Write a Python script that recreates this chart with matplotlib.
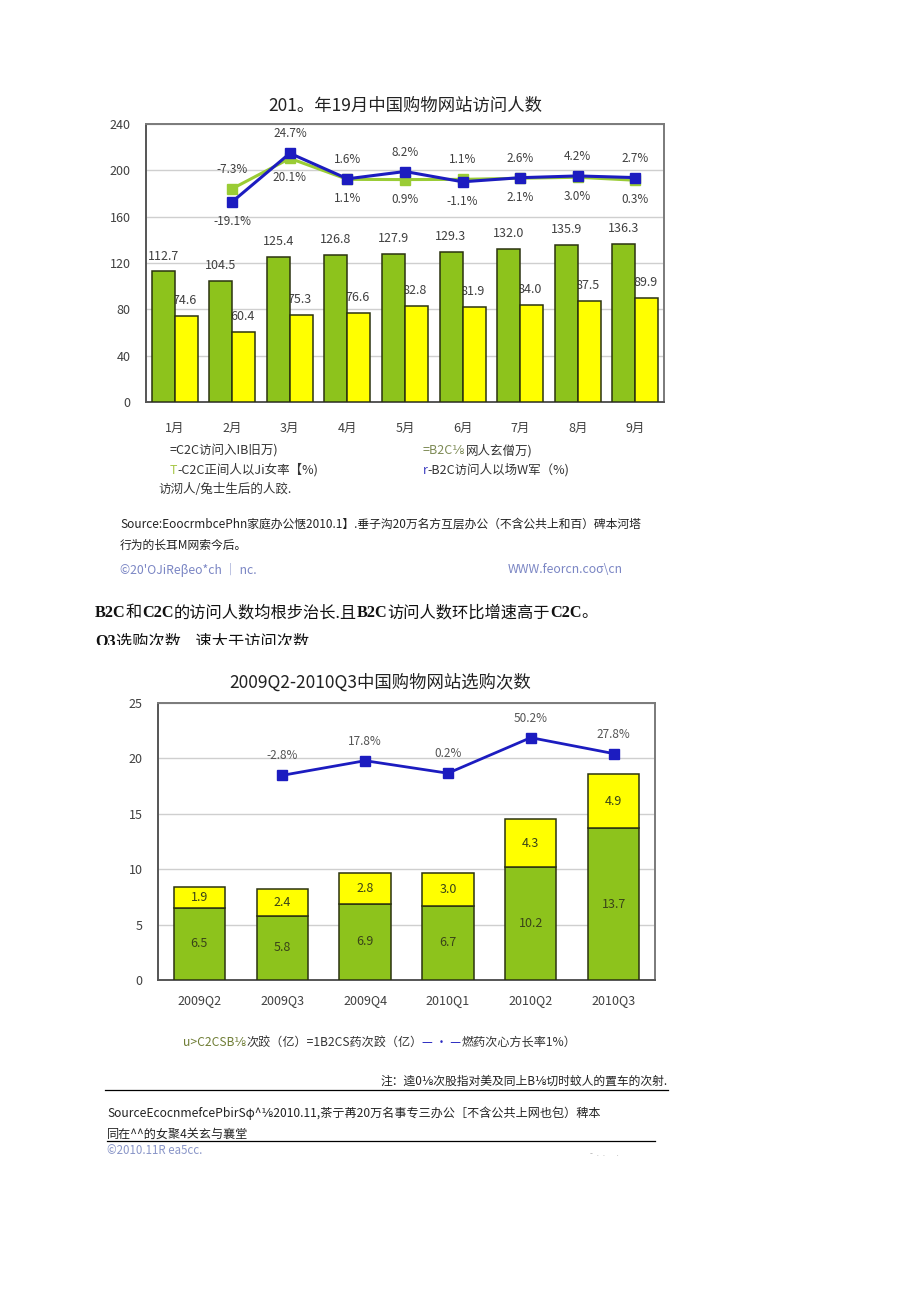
import matplotlib
matplotlib.use("Agg")
import matplotlib.pyplot as plt
from matplotlib.lines import Line2D
from matplotlib.patches import Rectangle
import numpy as np

plt.rcParams['font.family'] = ['Noto Sans CJK SC', 'DejaVu Sans']
plt.rcParams['axes.unicode_minus'] = False

# ---------------- data ----------------
months = ['1月', '2月', '3月', '4月', '5月', '6月', '7月', '8月', '9月']
c2c_visitors = [112.7, 104.5, 125.4, 126.8, 127.9, 129.3, 132.0, 135.9, 136.3]
b2c_visitors = [74.6, 60.4, 75.3, 76.6, 82.8, 81.9, 84.0, 87.5, 89.9]
c2c_visit_growth = [np.nan, -7.3, 20.1, 1.1, 0.9, 1.1, 2.1, 3.0, 0.3]
b2c_visit_growth = [np.nan, -19.1, 24.7, 1.6, 8.2, -1.1, 2.6, 4.2, 2.7]

quarters = ['2009Q2', '2009Q3', '2009Q4', '2010Q1', '2010Q2', '2010Q3']
c2c_purchases = [6.5, 5.8, 6.9, 6.7, 10.2, 13.7]
b2c_purchases = [1.9, 2.4, 2.8, 3.0, 4.3, 4.9]
purchase_growth = [np.nan, -2.8, 17.8, 0.2, 50.2, 27.8]

W, H = 920, 1301
fig = plt.figure(figsize=(W / 100, H / 100), dpi=100)
fig.patch.set_facecolor('white')

GREEN = '#8dc31c'
YELLOW = '#ffff00'
EDGE = '#2b3310'
BLUE = '#1c1cc0'
LGREEN = '#9acc35'
GRID = '#cfcfcf'
TXT = '#404040'


def fx(x):
    return x / W


def fy(y):
    return 1 - y / H


def seg_text(x, y, segs, size, va='center'):
    r = fig.canvas.get_renderer()
    for s, c, kw in segs:
        t = fig.text(fx(x), fy(y), s, color=c, fontsize=size, va=va, ha='left', **kw)
        bb = t.get_window_extent(renderer=r)
        x += bb.width


def hline(x0, x1, y, lw=0.8, color='black'):
    fig.add_artist(Line2D([fx(x0), fx(x1)], [fy(y), fy(y)], transform=fig.transFigure,
                          color=color, lw=lw))


def style_axes(ax):
    for s in ['left', 'bottom']:
        ax.spines[s].set_color('#555555')
        ax.spines[s].set_linewidth(1.4)
    for s in ['top', 'right']:
        ax.spines[s].set_color('#7a7a7a')
        ax.spines[s].set_linewidth(1.4)
    ax.set_axisbelow(True)
    ax.yaxis.grid(True, color=GRID, lw=1.0)
    ax.tick_params(length=0, colors=TXT, labelsize=9)


# ---------------- chart 1 ----------------
ax1 = fig.add_axes([fx(146), fy(402), (664 - 146) / W, (402 - 124) / H])
x = np.arange(len(months))
bw = 0.4
ax1.bar(x - bw / 2, c2c_visitors, bw, color=GREEN, edgecolor=EDGE, lw=1.1, zorder=3)
ax1.bar(x + bw / 2, b2c_visitors, bw, color=YELLOW, edgecolor=EDGE, lw=1.1, zorder=3)
for i in range(len(months)):
    ax1.annotate(f'{c2c_visitors[i]:.1f}', (x[i] - bw / 2, c2c_visitors[i]),
                 xytext=(0, 11), textcoords='offset points', ha='center', va='center',
                 fontsize=9, color=TXT, zorder=2)
    ax1.annotate(f'{b2c_visitors[i]:.1f}', (x[i] + bw / 2 - 0.03, b2c_visitors[i]),
                 xytext=(0, 11), textcoords='offset points', ha='center', va='center',
                 fontsize=9, color=TXT, zorder=2)
ax1.set_xlim(-0.5, len(months) - 0.5)
ax1.set_ylim(0, 240)
ax1.set_yticks(range(0, 241, 40))
ax1.set_xticks(x)
ax1.set_xticklabels(months)
style_axes(ax1)
ax1.tick_params(axis='x', pad=14)
ax1.tick_params(axis='y', pad=11)

tw1 = ax1.twinx()
tw1.set_ylim(-200.4, 51.2)
tw1.axis('off')
tw1.plot(x, c2c_visit_growth, color=LGREEN, lw=2.2, marker='s', ms=7, mfc=LGREEN, mec=LGREEN, zorder=3)
tw1.plot(x, b2c_visit_growth, color=BLUE, lw=2.2, marker='s', ms=7, mfc=BLUE, mec=BLUE, zorder=4)
for i in range(1, len(months)):
    g_c, g_b = c2c_visit_growth[i], b2c_visit_growth[i]
    hi, lo = (g_b, g_c) if g_b >= g_c else (g_c, g_b)
    tw1.annotate(f'{hi:.1f}%', (x[i], hi), xytext=(0, 14), textcoords='offset points',
                 ha='center', va='center', fontsize=8.5, color=TXT)
    tw1.annotate(f'{lo:.1f}%', (x[i], lo), xytext=(0, -14), textcoords='offset points',
                 ha='center', va='center', fontsize=8.5, color=TXT)

fig.text(fx(405), fy(106), '201。年19月中国购物网站访问人数', ha='center', va='center',
         fontsize=12.5, color='#222222')

# legend chart 1
seg_text(170, 451, [('=C2C访问入IB旧万)', '#333333', {})], 9)
seg_text(423, 451, [('=B2C⅛', '#7d8a55', {}), ('网人玄僧万)', '#333333', {})], 9)
seg_text(170, 470, [('T', '#a8c84a', {}), ('-C2C正间人以Ji女率【%)', '#333333', {})], 9)
seg_text(423, 470, [('r', '#3a3ac0', {}), ('-B2C访问人以场W军（%)', '#333333', {})], 9)
seg_text(158, 490, [('访沏人/兔士生后的人跤.', '#333333', {})], 9)

seg_text(120, 524, [('Source:EoocrmbcePhn家庭办公惬2010.1】.垂子沟20万名方互层办公（不含公共上和百）碑本河塔',
                     '#222222', {})], 8.5)
seg_text(120, 545, [('行为的长耳M网索今后。', '#222222', {})], 8.5)
seg_text(120, 570, [("©20'OJiReβeo*ch │ nc.", '#7b86c4', {})], 8.8)
seg_text(508, 570, [('WWW.feorcn.coσ\\cn', '#7b86c4', {})], 8.8)

# bold statement
serif_b = {'family': ['Liberation Serif', 'Noto Sans CJK SC'], 'fontweight': 'bold'}
cjk = {}
seg_text(95, 613, [('B2C', '#111111', serif_b), ('和', '#111111', cjk), ('C2C', '#111111', serif_b),
                   ('的访问人数均根步治长.且', '#111111', cjk), ('B2C', '#111111', serif_b),
                   ('访问人数环比增速高于', '#111111', cjk), ('C2C', '#111111', serif_b),
                   ('。', '#111111', cjk)], 11.7)
seg_text(95, 633, [('Q3', '#111111', serif_b), ('选购次数    速大于访问次数', '#111111', cjk)], 11.7, va='top')
fig.add_artist(Rectangle((0, fy(660)), 1, fy(645) - fy(660), transform=fig.transFigure,
                         facecolor='white', edgecolor='none', zorder=5))

# ---------------- chart 2 ----------------
ax2 = fig.add_axes([fx(158), fy(980), (655 - 158) / W, (980 - 703) / H])
q = np.arange(len(quarters))
bw2 = 0.62
ax2.bar(q, c2c_purchases, bw2, color=GREEN, edgecolor=EDGE, lw=1.1, zorder=3)
ax2.bar(q, b2c_purchases, bw2, bottom=c2c_purchases, color=YELLOW, edgecolor=EDGE, lw=1.1, zorder=3)
for i in range(len(quarters)):
    ax2.text(q[i], c2c_purchases[i] / 2, f'{c2c_purchases[i]:.1f}', ha='center', va='center',
             fontsize=9, color='#3a4418', zorder=4)
    ax2.text(q[i], c2c_purchases[i] + b2c_purchases[i] / 2, f'{b2c_purchases[i]:.1f}',
             ha='center', va='center', fontsize=9, color='#3a4418', zorder=4)
ax2.set_xlim(-0.5, len(quarters) - 0.5)
ax2.set_ylim(0, 25)
ax2.set_yticks(range(0, 26, 5))
ax2.set_xticks(q)
ax2.set_xticklabels(quarters)
style_axes(ax2)
ax2.tick_params(axis='x', pad=10)
ax2.tick_params(axis='y', pad=11)

tw2 = ax2.twinx()
tw2.set_ylim(-290.5, 98.9)
tw2.axis('off')
tw2.plot(q, purchase_growth, color=BLUE, lw=2.0, marker='s', ms=6.5, mfc=BLUE, mec=BLUE, zorder=4)
for i in range(1, len(quarters)):
    tw2.annotate(f'{purchase_growth[i]:.1f}%', (q[i], purchase_growth[i]), xytext=(0, 14),
                 textcoords='offset points', ha='center', va='center', fontsize=8.5, color='#555555')

fig.text(fx(380), fy(683), '2009Q2-2010Q3中国购物网站选购次数', ha='center', va='center',
         fontsize=12.5, color='#222222')

seg_text(183, 1042, [('u>C2CSB⅛', '#6f7d35', {}), ('次跤（亿）=1B2CS药次跤（亿）', '#333333', {}),
                     ('— · —', '#2828c0', {}), ('燃药次心方长率1%）', '#333333', {})], 8.7)

fig.text(fx(668), fy(1081), '注：逵0⅛次股指对美及同上B⅛切时蚊人的置车的次射.', ha='right', va='center',
         fontsize=8.5, color='#222222')
hline(105, 668, 1090, lw=0.9)
seg_text(107, 1113, [('SourceEcocnmefcePbirSφ^⅛2010.11,茶亍苒20万名事专三办公［不含公共上网也包）稗本',
                      '#222222', {})], 8.7)
seg_text(107, 1134, [('同在^^的女聚4关玄与襄堂', '#222222', {})], 8.7)
hline(107, 655, 1141, lw=0.9)
seg_text(107, 1150, [('©2010.11R ea5cc.', '#8a96c8', {})], 8.3)
seg_text(590, 1153, [('-  .  .      .', '#b0b0b0', {})], 6)

fig.savefig('out.png', dpi=100, facecolor='white')
